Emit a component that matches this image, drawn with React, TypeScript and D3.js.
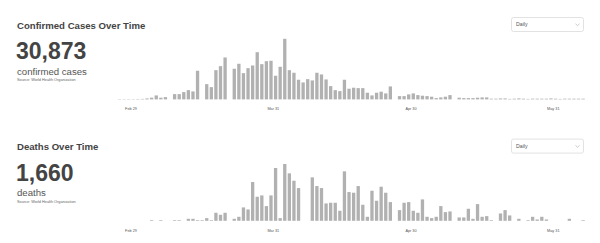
import React from "react";
import * as d3 from "d3";

// Daily values starting Feb 26, 2020
const startDate = new Date(2020, 1, 26);

const confirmedDaily = [
  9, 9, 9, 9, 12, 15, 29, 50, 117, 50, 67, 0, 155, 155, 214, 272, 234, 841, 0, 448,
  360, 858, 976, 1231, 0, 900, 1046, 771, 917, 996, 1386, 1034, 1122, 1134, 694, 958, 1779, 858, 782, 577,
  498, 595, 557, 782, 733, 586, 390, 272, 243, 577, 314, 343, 331, 331, 196, 117, 196, 226, 176, 381,
  0, 97, 97, 147, 176, 126, 108, 97, 79, 38, 59, 79, 126, 0, 50, 38, 38, 38, 50, 59,
  59, 21, 21, 29, 29, 15, 21, 29, 21, 15, 21, 21, 21, 21, 29, 21, 15, 21, 21, 21,
  21, 21,
];

const deathsDaily = [
  0, 0, 0, 0, 0, 0, 0, 1, 0, 1, 0, 0, 1, 1, 0, 3, 3, 1, 1, 4,
  1, 12, 9, 12, 0, 3, 6, 20, 17, 58, 36, 38, 22, 38, 79, 4, 85, 71, 60, 49,
  0, 0, 65, 52, 49, 26, 27, 27, 15, 74, 43, 42, 52, 24, 6, 45, 30, 51, 42, 28,
  0, 16, 27, 28, 15, 12, 32, 6, 4, 6, 22, 13, 14, 0, 5, 5, 18, 3, 25, 6,
  7, 1, 0, 11, 16, 8, 0, 3, 0, 1, 6, 2, 6, 2, 0, 0, 0, 0, 3, 0,
  0, 1,
];

const tickDates = [
  new Date(2020, 1, 29),
  new Date(2020, 2, 31),
  new Date(2020, 3, 30),
  new Date(2020, 4, 31),
];
const tickLabels = ["Feb 29", "Mar 31", "Apr 30", "May 31"];

const titles = ["Confirmed Cases Over Time", "Deaths Over Time"];
const totals = ["30,873", "1,660"];
const unitLabels = ["confirmed cases", "deaths"];
const sourceText = "Source: World Health Organization";
const periodOption = "Daily";

const FONT = "'Liberation Sans', Arial, Helvetica, sans-serif";
const BAR = "#b1b1b1";

type PanelProps = {
  values: number[];
  top: number;
  title: string;
  total: string;
  unit: string;
  plotTop: number;
  baseline: number;
};

function Panel({ values, top, title, total, unit, plotTop, baseline }: PanelProps) {
  const pitch = 4.59;
  const x0 = 131 - 3 * pitch;
  const end = d3.timeDay.offset(startDate, values.length);
  const x = d3
    .scaleTime()
    .domain([startDate, end])
    .range([x0, x0 + values.length * pitch]);
  const y = d3
    .scaleLinear()
    .domain([0, d3.max(values) as number])
    .range([baseline, plotTop]);
  const dates = values.map((_, i) => d3.timeDay.offset(startDate, i));

  return (
    <g transform={`translate(0,${top})`}>
      <text x={17} y={28.5} fontSize={9.6} fontWeight="bold" fill="#444" fontFamily={FONT}>
        {title}
      </text>
      <text x={16} y={59.2} fontSize={23} fontWeight="bold" fill="#444" fontFamily={FONT}>
        {total}
      </text>
      <text x={17} y={74.5} fontSize={9.6} fill="#555" fontFamily={FONT}>
        {unit}
      </text>
      <text x={17} y={81} fontSize={3.8} fill="#666" fontFamily={FONT}>
        {sourceText}
      </text>

      {/* dropdown */}
      <rect x={511.5} y={17.5} width={72} height={14} rx={2} fill="#fff" stroke="#e2e2e2" strokeWidth={1} />
      <text x={516} y={26.2} fontSize={5.2} fill="#555" fontFamily={FONT}>
        {periodOption}
      </text>
      <path d="M575.5,23.8 L577.5,25.6 L579.5,23.8" fill="none" stroke="#b5b5b5" strokeWidth={0.7} />

      {/* bars */}
      {values.map((v, i) => {
        const a = x(dates[i]);
        const b = x(d3.timeDay.offset(dates[i], 1));
        const w = (b - a) * 0.72;
        const cx = (a + b) / 2;
        const yTop = y(v);
        return (
          <rect key={i} x={cx - w / 2} y={yTop} width={w} height={Math.max(0, baseline - yTop)} fill={BAR} />
        );
      })}

      {/* tick labels */}
      {tickDates.map((d, i) => (
        <text
          key={i}
          x={x(d)}
          y={110.2}
          fontSize={3.8}
          textAnchor="middle"
          fill="#555"
          fontFamily={FONT}
        >
          {tickLabels[i]}
        </text>
      ))}
    </g>
  );
}

export default function App() {
  return (
    <svg
      width={600}
      height={243}
      style={{ position: "absolute", left: 0, top: 0, background: "#fff" }}
    >
      <rect x={0} y={0} width={600} height={243} fill="#fff" />
      <Panel
        values={confirmedDaily}
        top={0}
        title={titles[0]}
        total={totals[0]}
        unit={unitLabels[0]}
        plotTop={38.8}
        baseline={99.4}
      />
      <Panel
        values={deathsDaily}
        top={121.6}
        title={titles[1]}
        total={totals[1]}
        unit={unitLabels[1]}
        plotTop={42.4}
        baseline={99.2}
      />
    </svg>
  );
}
